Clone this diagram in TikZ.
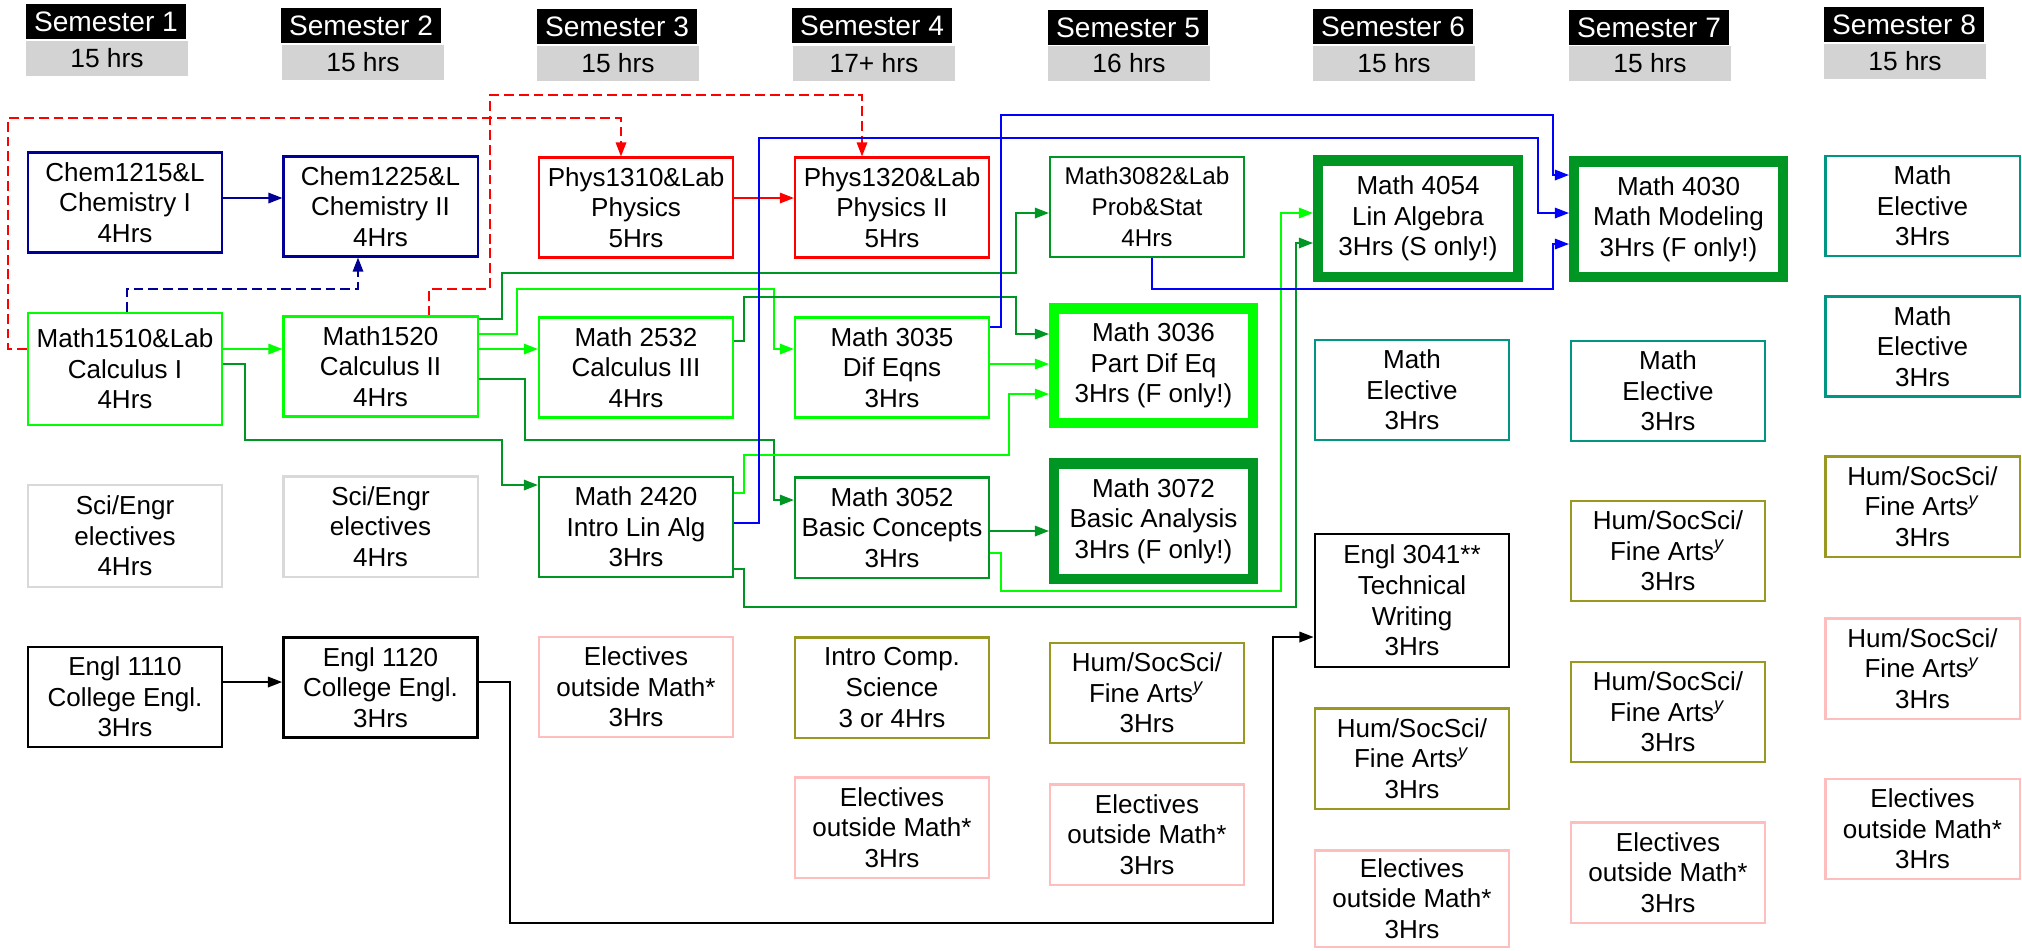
\documentclass[tikz,border=0pt]{standalone}
\usepackage{fontspec}
\setmainfont{Liberation Sans}
\usetikzlibrary{arrows.meta}
\definecolor{brgreen}{RGB}{0,255,0}
\definecolor{dkgreen}{RGB}{0,150,35}
\definecolor{chemblue}{RGB}{0,0,150}
\definecolor{electeal}{RGB}{0,150,130}
\definecolor{humolive}{RGB}{153,153,34}
\definecolor{elecpink}{RGB}{255,190,190}
\definecolor{scigray}{RGB}{217,217,217}
\definecolor{headgray}{RGB}{211,211,211}
\tikzstyle{course}=[draw,line width=0.6pt,minimum width=1.94cm,minimum height=1cm,inner sep=0pt,align=center,font=\fontsize{7.4}{8.7}\selectfont]
\tikzstyle{engl}=[course,draw=black,line width=0.8pt]
\tikzstyle{key}=[course,line width=3pt,minimum width=1.985cm,minimum height=1.155cm]
\tikzstyle{semester}=[fill=black,text=white,minimum width=1.6cm,minimum height=0.35cm,inner sep=0pt,font=\fontsize{8}{9}\selectfont]
\tikzstyle{hours}=[fill=headgray,minimum width=1.62cm,minimum height=0.35cm,inner sep=0pt,font=\fontsize{7.5}{9}\selectfont]
\tikzstyle{prereq}=[-{Triangle[length=4pt,width=3pt]},line width=0.45pt]
\tikzstyle{coreq}=[prereq,dash pattern=on 2.8pt off 1.4pt]

\begin{document}
\begin{tikzpicture}[x=0.01cm,y=-0.01cm]
                  \useasboundingbox (0,0) rectangle (2022,950);

                  \node (s1) at (106,21.5) [semester] {Semester 1};
                  \node (s2) at (361,25.5) [semester] {Semester 2};
                  \node (s3) at (617,26.5) [semester] {Semester 3};
                  \node (s4) at (872,25.5) [semester] {Semester 4};
                  \node (s5) at (1128,27.5) [semester] {Semester 5};
                  \node (s6) at (1393,26.5) [semester] {Semester 6};
                  \node (s7) at (1649,27.5) [semester] {Semester 7};
                  \node (s8) at (1904,24.5) [semester] {Semester 8};

                  \node (h1) at (107,58.5) [hours] {15 hrs};
                  \node (h2) at (363,62.5) [hours] {15 hrs};
                  \node (h3) at (618,63.5) [hours] {15 hrs};
                  \node (h4) at (874,63.5) [hours] {17+ hrs};
                  \node (h5) at (1129,63.5) [hours] {16 hrs};
                  \node (h6) at (1394,63.5) [hours] {15 hrs};
                  \node (h7) at (1650,63.5) [hours] {15 hrs};
                  \node (h8) at (1905,61.5) [hours] {15 hrs};

                  \node (c1215) at (125,202.5) [course,draw=chemblue] {Chem1215\&L\\Chemistry I\\4Hrs};
                  \node (c1225) at (380.5,206.5) [course,draw=chemblue] {Chem1225\&L\\Chemistry II\\4Hrs};
                  \node (p1310) at (636,207.5) [course,draw=red] {Phys1310\&Lab\\Physics\\5Hrs};
                  \node (p1320) at (892,207.5) [course,draw=red] {Phys1320\&Lab\\Physics II\\5Hrs};
                  \node (m3082) at (1147,207) [course,draw=dkgreen,font=\fontsize{6.9}{8.9}\selectfont] {Math3082\&Lab\\Prob\&Stat\\4Hrs};
                  \node (m4054) at (1418,218.5) [key,draw=dkgreen,minimum width=1.995cm,minimum height=1.165cm] {Math 4054\\Lin Algebra\\3Hrs (S only!)};
                  \node (m4030) at (1678.5,219) [key,draw=dkgreen,minimum width=2.085cm] {Math 4030\\Math Modeling\\3Hrs (F only!)};
                  \node (me8a) at (1922.5,206) [course,draw=electeal] {Math\\Elective\\3Hrs};

                  \node (m1510) at (125,369) [course,draw=brgreen,minimum height=1.12cm] {Math1510\&Lab\\Calculus I\\4Hrs};
                  \node (m1520) at (380.5,366.5) [course,draw=brgreen] {Math1520\\Calculus II\\4Hrs};
                  \node (m2532) at (636,367.5) [course,draw=brgreen] {Math 2532\\Calculus III\\4Hrs};
                  \node (m3035) at (892,367.5) [course,draw=brgreen] {Math 3035\\Dif Eqns\\3Hrs};
                  \node (m3036) at (1153.5,365.5) [key,draw=brgreen,minimum height=1.145cm] {Math 3036\\Part Dif Eq\\3Hrs (F only!)};
                  \node (me6) at (1412,390) [course,draw=electeal] {Math\\Elective\\3Hrs};
                  \node (me7) at (1668,391) [course,draw=electeal] {Math\\Elective\\3Hrs};
                  \node (me8b) at (1922.5,346.5) [course,draw=electeal] {Math\\Elective\\3Hrs};

                  \node (se1) at (125,536) [course,draw=scigray,minimum height=1.02cm] {Sci/Engr\\electives\\4Hrs};
                  \node (se2) at (380.5,526.5) [course,draw=scigray] {Sci/Engr\\electives\\4Hrs};
                  \node (m2420) at (636,527) [course,draw=dkgreen] {Math 2420\\Intro Lin Alg\\3Hrs};
                  \node (m3052) at (892,527.5) [course,draw=dkgreen] {Math 3052\\Basic Concepts\\3Hrs};
                  \node (m3072) at (1153.5,521) [key,draw=dkgreen] {Math 3072\\Basic Analysis\\3Hrs (F only!)};
                  \node (e3041) at (1412,600.5) [engl,minimum height=1.33cm] {Engl 3041**\\Technical\\Writing\\3Hrs};
                  \node (hu7a) at (1668,551) [course,draw=humolive] {Hum/SocSci/\\Fine Arts\textsuperscript{\textit{y}}\\3Hrs};
                  \node (hu8a) at (1922.5,506.5) [course,draw=humolive] {Hum/SocSci/\\Fine Arts\textsuperscript{\textit{y}}\\3Hrs};

                  \node (e1110) at (125,697) [engl] {Engl 1110\\College Engl.\\3Hrs};
                  \node (e1120) at (380.5,687.5) [engl] {Engl 1120\\College Engl.\\3Hrs};
                  \node (el3) at (636,687) [course,draw=elecpink] {Electives\\outside Math*\\3Hrs};
                  \node (ic4) at (892,687.5) [course,draw=humolive] {Intro Comp.\\Science\\3 or 4Hrs};
                  \node (hu5) at (1147,693) [course,draw=humolive] {Hum/SocSci/\\Fine Arts\textsuperscript{\textit{y}}\\3Hrs};
                  \node (hu6) at (1412,758.5) [course,draw=humolive] {Hum/SocSci/\\Fine Arts\textsuperscript{\textit{y}}\\3Hrs};
                  \node (hu7b) at (1668,712) [course,draw=humolive] {Hum/SocSci/\\Fine Arts\textsuperscript{\textit{y}}\\3Hrs};
                  \node (hu8b) at (1922.5,668.5) [course,draw=elecpink] {Hum/SocSci/\\Fine Arts\textsuperscript{\textit{y}}\\3Hrs};

                  \node (el4) at (892,827.5) [course,draw=elecpink] {Electives\\outside Math*\\3Hrs};
                  \node (el5) at (1147,834.5) [course,draw=elecpink] {Electives\\outside Math*\\3Hrs};
                  \node (el6) at (1412,898.5) [course,draw=elecpink,minimum height=0.96cm] {Electives\\outside Math*\\3Hrs};
                  \node (el7) at (1668,872.5) [course,draw=elecpink] {Electives\\outside Math*\\3Hrs};
                  \node (el8) at (1922.5,829) [course,draw=elecpink] {Electives\\outside Math*\\3Hrs};

                  \draw [prereq,chemblue] (c1215.east |- 0,198) -- (c1225.west |- 0,198);
                  \draw [coreq,chemblue] (m1510.north -| 127,0) |- (358,289) -- (c1225.south -| 358,0);

                  \draw [coreq,red] (m1510.west |- 0,349) -| (8,118) -| (p1310.north -| 621,0);
                  \draw [coreq,red] (m1520.north -| 429,0) |- (490,289) |- (862,95) -- (p1320.north -| 862,0);
                  \draw [prereq,red] (p1310.east |- 0,198) -- (p1320.west |- 0,198);

                  \draw [prereq,brgreen] (m1510.east |- 0,349) -- (m1520.west |- 0,349);
                  \draw [prereq,dkgreen] (m1510.east |- 0,364) -| (245,440) -| (502,485) -- (m2420.west |- 0,485);
                  \draw [prereq,dkgreen] (m1520.east |- 0,319) -| (502,273) -| (1016,213) -- (m3082.west |- 0,213);
                  \draw [prereq,brgreen] (m1520.east |- 0,334) -| (517,289) -| (774,349) -- (m3035.west |- 0,349);
                  \draw [prereq,brgreen] (m1520.east |- 0,349) -- (m2532.west |- 0,349);
                  \draw [prereq,dkgreen] (m1520.east |- 0,379) -| (525,440) -| (774,500) -- (m3052.west |- 0,500);

                  \draw [prereq,dkgreen] (m2532.east |- 0,341) -| (744,297) -| (1016,334) -- (m3036.west |- 0,334);
                  \draw [prereq,brgreen] (m3035.east |- 0,364) -- (m3036.west |- 0,364);
                  \draw [prereq,brgreen] (m2420.east |- 0,493) -| (744,455) -| (1009,394) -- (m3036.west |- 0,394);
                  \draw [prereq,dkgreen] (m3052.east |- 0,531) -- (m3072.west |- 0,531);

                  \draw [prereq,brgreen] (m3052.east |- 0,553) -| (1001,591) -| (1281,213) -- (m4054.west |- 0,213);
                  \draw [prereq,dkgreen] (m2420.east |- 0,569) -| (744,607) -| (1296,243) -- (m4054.west |- 0,243);

                  \draw [prereq,blue] (m3035.east |- 0,327) -| (1001,115) -| (1553,175) -- (m4030.west |- 0,175);
                  \draw [prereq,blue] (m2420.east |- 0,523) -| (759,138) -| (1538,213) -- (m4030.west |- 0,213);
                  \draw [prereq,blue] (m3082.south -| 1152,0) |- (1553,289) |- (m4030.west |- 0,244);

                  \draw [prereq,black] (e1110.east |- 0,682) -- (e1120.west |- 0,682);
                  \draw [prereq,black] (e1120.east |- 0,682) -| (510,923) -| (1273,637) -- (e3041.west |- 0,637);
              \end{tikzpicture}
\end{document}
